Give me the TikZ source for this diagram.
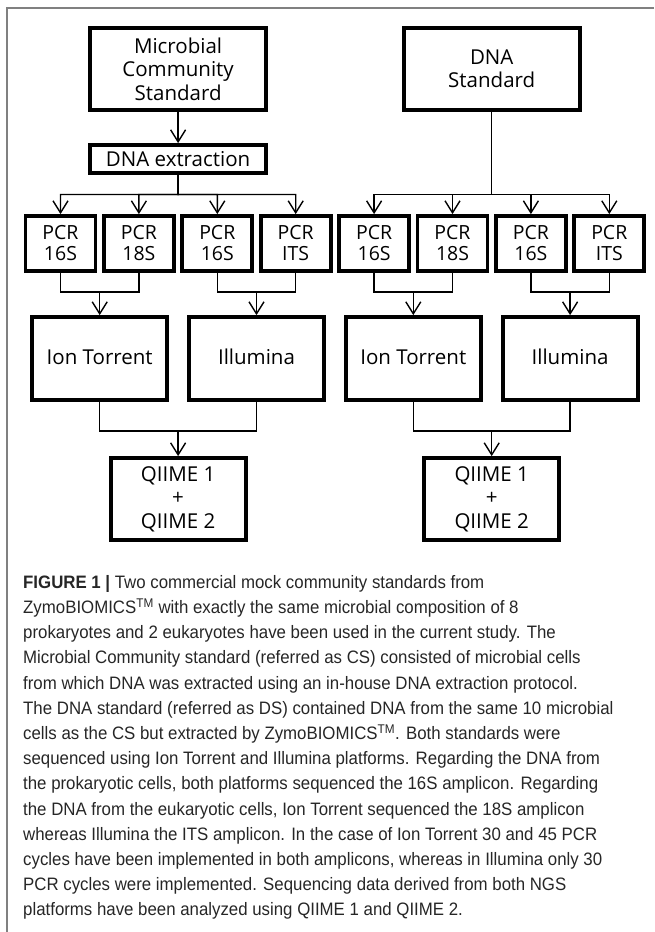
\documentclass[tikz,border=0pt]{standalone}
\usepackage{fontspec}
\setmainfont{Open Sans}
\newfontfamily\capfont[FakeStretch=0.935]{Liberation Sans}
\usetikzlibrary{arrows.meta,positioning,calc}

\begin{document}
\begin{tikzpicture}[
    x=1pt, y=1pt,
    font=\fontsize{20.5}{23.5}\selectfont,
    node distance=8.4pt,
    box/.style={draw, line width=3.8pt, align=center, inner sep=0pt, outer sep=0pt, minimum width=176pt, minimum height=82pt},
    pcr/.style={box, minimum width=70pt, minimum height=55pt, font=\fontsize{19.5}{21}\selectfont},
    qiime/.style={box, minimum width=135pt, minimum height=82pt},
    plat/.style={qiime, minimum height=83pt, text height=15pt, text depth=4pt},
    arr/.style={-{Straight Barb[length=12pt,width=15pt]}, line width=1.4pt, shorten >=1.9pt},
    link/.style={line width=1.4pt},
    capt/.style={font=\capfont\fontsize{18}{25.2}\selectfont, align=left, text=black!85, inner sep=0pt}
  ]
    \useasboundingbox (0,0) rectangle (654,-932);
    % frame of the figure
    \draw[black!50, line width=1.2pt] (654,-8) -- (7,-8) -- (7,-932);

    \node[pcr] (P1) at (60.5,-243.5) {PCR\\16S};
    \node[pcr, right=of P1] (P2) {PCR\\18S};
    \node[pcr, right=of P2] (P3) {PCR\\16S};
    \node[pcr, right=of P3] (P4) {PCR\\ITS};
    \node[pcr, right=of P4] (P5) {PCR\\16S};
    \node[pcr, right=of P5] (P6) {PCR\\18S};
    \node[pcr, right=of P6] (P7) {PCR\\16S};
    \node[pcr, right=of P7] (P8) {PCR\\ITS};

    \coordinate (M1) at ($(P1.north)!0.5!(P4.north)$);
    \coordinate (M2) at ($(P5.north)!0.5!(P8.north)$);
    \node[box, minimum height=28pt, above=43pt of M1] (DE) {DNA extraction};
    \node[box, above=35pt of DE] (MCS) {Microbial\\Community\\Standard};
    \node[box] (DS) at (MCS -| M2) {DNA\\Standard};

    % sequencing platforms
    \coordinate (N1) at ($(P1.south)!0.5!(P2.south)$);
    \coordinate (N2) at ($(P3.south)!0.5!(P4.south)$);
    \coordinate (N3) at ($(P5.south)!0.5!(P6.south)$);
    \coordinate (N4) at ($(P7.south)!0.5!(P8.south)$);
    \node[plat, below=46pt of N1] (IT1) {Ion Torrent};
    \node[plat, below=46pt of N2] (IL1) {Illumina};
    \node[plat, below=46pt of N3] (IT2) {Ion Torrent};
    \node[plat, below=46pt of N4] (IL2) {Illumina};

    \coordinate (Q1) at ($(IT1.south)!0.5!(IL1.south)$);
    \coordinate (Q2) at ($(IT2.south)!0.5!(IL2.south)$);
    \node[qiime, below=58pt of Q1] (QL) {QIIME 1\\+\\QIIME 2};
    \node[qiime, below=58pt of Q2] (QR) {QIIME 1\\+\\QIIME 2};

    % branching to the PCRs
    \coordinate (b1) at ($(DE.south)!0.5!(M1)$);
    \coordinate (b2) at (DS.south |- b1);
    \draw[arr] (MCS) -- (DE);
    \draw[arr] (DE.south) -- (b1) -| (P1.north);
    \draw[arr] (DE.south) -- (b1) -| (P2.north);
    \draw[arr] (DE.south) -- (b1) -| (P3.north);
    \draw[arr] (DE.south) -- (b1) -| (P4.north);
    \draw[arr] (DS.south) -- (b2) -| (P5.north);
    \draw[arr] (DS.south) -- (b2) -| (P6.north);
    \draw[arr] (DS.south) -- (b2) -| (P7.north);
    \draw[arr] (DS.south) -- (b2) -| (P8.north);

    % PCR pairs into platforms
    \coordinate[above=25pt of IT1.north] (j1);
    \coordinate[above=25pt of IL1.north] (j2);
    \coordinate[above=25pt of IT2.north] (j3);
    \coordinate[above=25pt of IL2.north] (j4);
    \draw[link] (P1.south) |- (j1) -| (P2.south);
    \draw[link] (P3.south) |- (j2) -| (P4.south);
    \draw[link] (P5.south) |- (j3) -| (P6.south);
    \draw[link] (P7.south) |- (j4) -| (P8.south);
    \draw[arr] (j1) -- (IT1);
    \draw[arr] (j2) -- (IL1);
    \draw[arr] (j3) -- (IT2);
    \draw[arr] (j4) -- (IL2);

    % platforms into QIIME
    \coordinate[above=27pt of QL.north] (k1);
    \coordinate[above=27pt of QR.north] (k2);
    \draw[link] (IT1.south) |- (k1) -| (IL1.south);
    \draw[link] (IT2.south) |- (k2) -| (IL2.south);
    \draw[arr] (k1) -- (QL);
    \draw[arr] (k2) -- (QR);

    \node[capt, anchor=north west] (cap) at (23,-575) {\textbf{FIGURE 1 |} Two commercial mock community standards from\\
ZymoBIOMICS\textsuperscript{TM} with exactly the same microbial composition of 8\\
prokaryotes and 2 eukaryotes have been used in the current study. The\\
Microbial Community standard (referred as CS) consisted of microbial cells\\
from which DNA was extracted using an in-house DNA extraction protocol.\\
The DNA standard (referred as DS) contained DNA from the same 10 microbial\\
cells as the CS but extracted by ZymoBIOMICS\textsuperscript{TM}. Both standards were\\
sequenced using Ion Torrent and Illumina platforms. Regarding the DNA from\\
the prokaryotic cells, both platforms sequenced the 16S amplicon. Regarding\\
the DNA from the eukaryotic cells, Ion Torrent sequenced the 18S amplicon\\
whereas Illumina the ITS amplicon. In the case of Ion Torrent 30 and 45 PCR\\
cycles have been implemented in both amplicons, whereas in Illumina only 30\\
PCR cycles were implemented. Sequencing data derived from both NGS\\
platforms have been analyzed using QIIME 1 and QIIME 2.};
  \end{tikzpicture}
\end{document}
